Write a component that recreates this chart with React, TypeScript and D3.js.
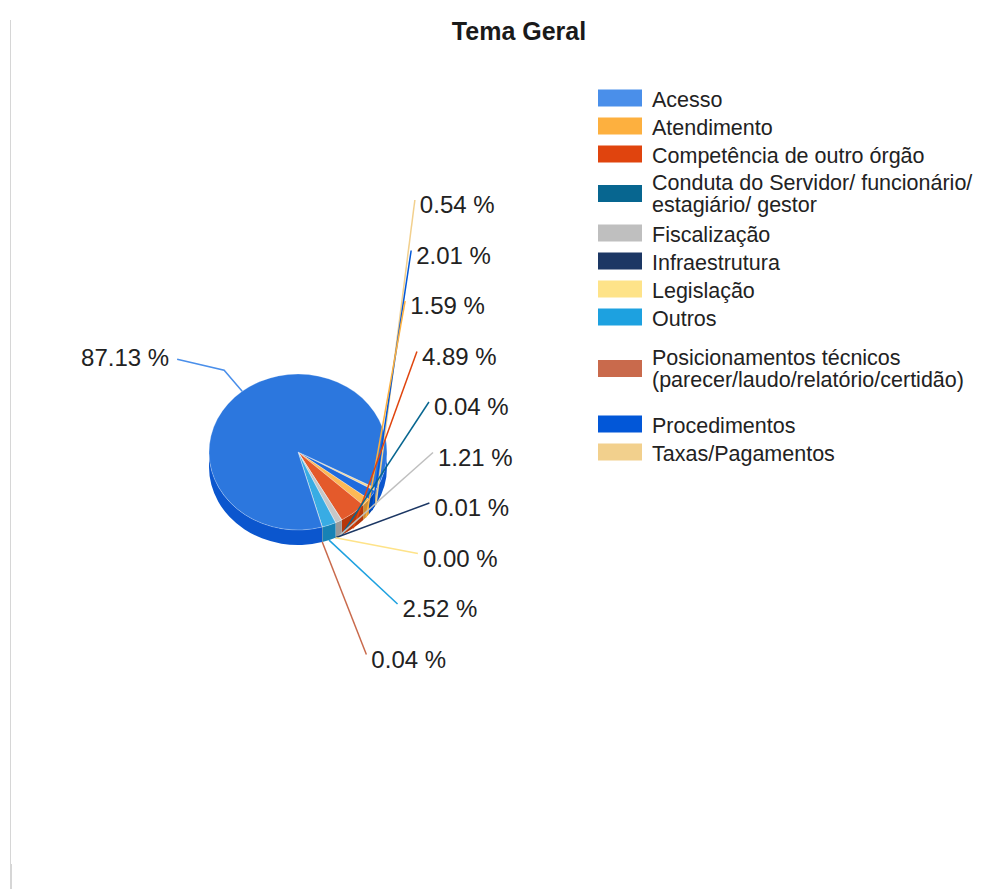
import React, { useEffect, useRef } from 'react';
import * as d3 from 'd3';

// chart data (legend order)
const categories = [
  'Acesso',
  'Atendimento',
  'Competência de outro órgão',
  'Conduta do Servidor/ funcionário/\nestagiário/ gestor',
  'Fiscalização',
  'Infraestrutura',
  'Legislação',
  'Outros',
  'Posicionamentos técnicos\n(parecer/laudo/relatório/certidão)',
  'Procedimentos',
  'Taxas/Pagamentos',
];
const values = [87.13, 1.59, 4.89, 0.04, 1.21, 0.01, 0.0, 2.52, 0.04, 2.01, 0.54];
const colors = [
  '#4A8FEA', '#FDB03F', '#E0440E', '#076690', '#BFBFBF', '#1C3764',
  '#FEE389', '#1DA1E0', '#C96A4C', '#0257D8', '#F2D08D',
];
// order in which the slices go round the pie (clockwise)
const sliceOrder = [10, 9, 1, 2, 3, 4, 5, 6, 7, 8, 0];

const W = 998;
const H = 889;
const FONT = '"Liberation Sans", Arial, Helvetica, sans-serif';

const App = () => {
  const chartRef = useRef<SVGSVGElement>(null);

  useEffect(() => {
    if (!chartRef.current) return;
    const svg = d3.select(chartRef.current);
    svg.selectAll('*').remove();

    // page border on the left
    svg.append('line')
      .attr('x1', 10.5).attr('x2', 10.5).attr('y1', 20).attr('y2', H)
      .attr('stroke', '#d6d6d6').attr('stroke-width', 1);
    svg.append('rect')
      .attr('x', 10).attr('y', 864).attr('width', 2).attr('height', H - 864)
      .attr('fill', '#d6d6d6');

    // title
    svg.append('text')
      .attr('x', 519).attr('y', 40)
      .attr('text-anchor', 'middle')
      .style('font-family', FONT).style('font-size', '25px').style('font-weight', 'bold')
      .attr('fill', '#1a1a1a')
      .text('Tema Geral');

    // 3D pie geometry
    const cx = 298, cy = 452, rx = 89, ry = 78, depth = 15;
    const start = (28 + 90) * Math.PI / 180;
    const ordered = sliceOrder.map(i => ({ name: categories[i], value: values[i], color: colors[i], idx: i }));
    const arcs = d3.pie<any>()
      .sort(null)
      .value(d => d.value)
      .startAngle(start)
      .endAngle(start + 2 * Math.PI)(ordered);

    const th = (a: number) => a - Math.PI / 2;
    const pt = (t: number, dy = 0): [number, number] => [cx + rx * Math.cos(t), cy + ry * Math.sin(t) + dy];
    const topColor = (d: any) => (d.data.idx === 0 ? '#2C77DE' : d3.interpolateRgb(d.data.color, '#ffffff')(0.12));
    const sideColor = (d: any) => (d.data.idx === 0 ? '#0B56CE' : d3.color(d.data.color)!.darker(0.6).formatHex());

    const frontParts = (a: number, b: number) => {
      const parts: [number, number][] = [];
      [0, 2 * Math.PI].forEach(off => {
        const s = Math.max(a, off), e = Math.min(b, off + Math.PI);
        if (e > s) parts.push([s, e]);
      });
      return parts;
    };

    const pie = svg.append('g');

    // side walls
    arcs.forEach(d => {
      const a = th(d.startAngle), b = th(d.endAngle);
      frontParts(a, b).forEach(([s, e]) => {
        const p0 = pt(s), p1 = pt(e), q1 = pt(e, depth), q0 = pt(s, depth);
        pie.append('path')
          .attr('d', `M${p0[0]},${p0[1]}A${rx},${ry} 0 0 1 ${p1[0]},${p1[1]}L${q1[0]},${q1[1]}A${rx},${ry} 0 0 0 ${q0[0]},${q0[1]}Z`)
          .attr('fill', sideColor(d));
      });
    });

    // top faces
    arcs.forEach(d => {
      if (d.endAngle - d.startAngle <= 0) return;
      const a = th(d.startAngle), b = th(d.endAngle);
      const p0 = pt(a), p1 = pt(b);
      const large = b - a > Math.PI ? 1 : 0;
      pie.append('path')
        .attr('d', `M${cx},${cy}L${p0[0]},${p0[1]}A${rx},${ry} 0 ${large} 1 ${p1[0]},${p1[1]}Z`)
        .attr('fill', topColor(d))
        .attr('stroke', '#ffffff').attr('stroke-opacity', 0.35).attr('stroke-width', 0.8);
    });

    const fmt = (v: number) => `${v.toFixed(2)} %`;
    const anchorOf = (d: any): [number, number] => {
      const t = th((d.startAngle + d.endAngle) / 2);
      return Math.sin(t) > 0 ? pt(t, depth) : pt(t);
    };

    const labels = svg.append('g');

    // big slice label on the left
    arcs.filter(d => d.data.idx === 0).forEach(d => {
      const an = anchorOf(d);
      const elbow = [an[0] - 18, an[1] - 21];
      const end = [elbow[0] - 47, elbow[1] - 11];
      labels.append('polyline')
        .attr('points', [an, elbow, end].map(p => p.join(',')).join(' '))
        .attr('fill', 'none').attr('stroke', d.data.color).attr('stroke-width', 1.5);
      labels.append('text')
        .attr('x', end[0] - 8).attr('y', end[1] + 6.5)
        .attr('text-anchor', 'end')
        .style('font-family', FONT).style('font-size', '24px')
        .attr('fill', '#222')
        .text(fmt(d.data.value));
    });

    // small slices: labels stacked on the right
    const R = 335;
    arcs.filter(d => d.data.idx !== 0).forEach((d, i) => {
      const an = anchorOf(d);
      const base = 213 + i * 50.5;
      const yc = base - 9;
      const dy = yc - 458;
      let x = 438 - (R - Math.sqrt(Math.max(0, R * R - dy * dy)));
      x = Math.max(x, an[0] + 44);
      labels.append('line')
        .attr('x1', an[0]).attr('y1', an[1])
        .attr('x2', x - 5).attr('y2', yc - 4)
        .attr('stroke', d.data.color).attr('stroke-width', 1.5);
      labels.append('text')
        .attr('x', x).attr('y', base)
        .style('font-family', FONT).style('font-size', '24px')
        .attr('fill', '#222')
        .text(fmt(d.data.value));
    });

    // legend
    const legend = svg.append('g');
    const padBefore = [0, 0, 0, -1, 0, 0, 0, 0, 11, 0, 0];
    const padAfter = [0, 0, 0, 2, 0, 0, 0, 0, 18, 0, 0];
    let y = 106.5;
    categories.forEach((c, i) => {
      const lines = c.split('\n');
      y += padBefore[i];
      const first = y;
      const last = y + (lines.length - 1) * 22;
      const swY = lines.length === 1 ? first - 17 : (first + last) / 2 - 15.5;
      legend.append('rect')
        .attr('x', 598).attr('y', swY).attr('width', 44).attr('height', 17)
        .attr('fill', colors[i]);
      const t = legend.append('text')
        .style('font-family', FONT).style('font-size', '21.5px')
        .attr('fill', '#222');
      lines.forEach((l, k) => {
        t.append('tspan').attr('x', 652).attr('y', first + k * 22).text(l);
      });
      y = last + 28 + padAfter[i];
    });
  }, []);

  return (
    <svg
      ref={chartRef}
      width={W}
      height={H}
      style={{ position: 'absolute', left: 0, top: 0, background: '#fff' }}
    />
  );
};

export default App;
